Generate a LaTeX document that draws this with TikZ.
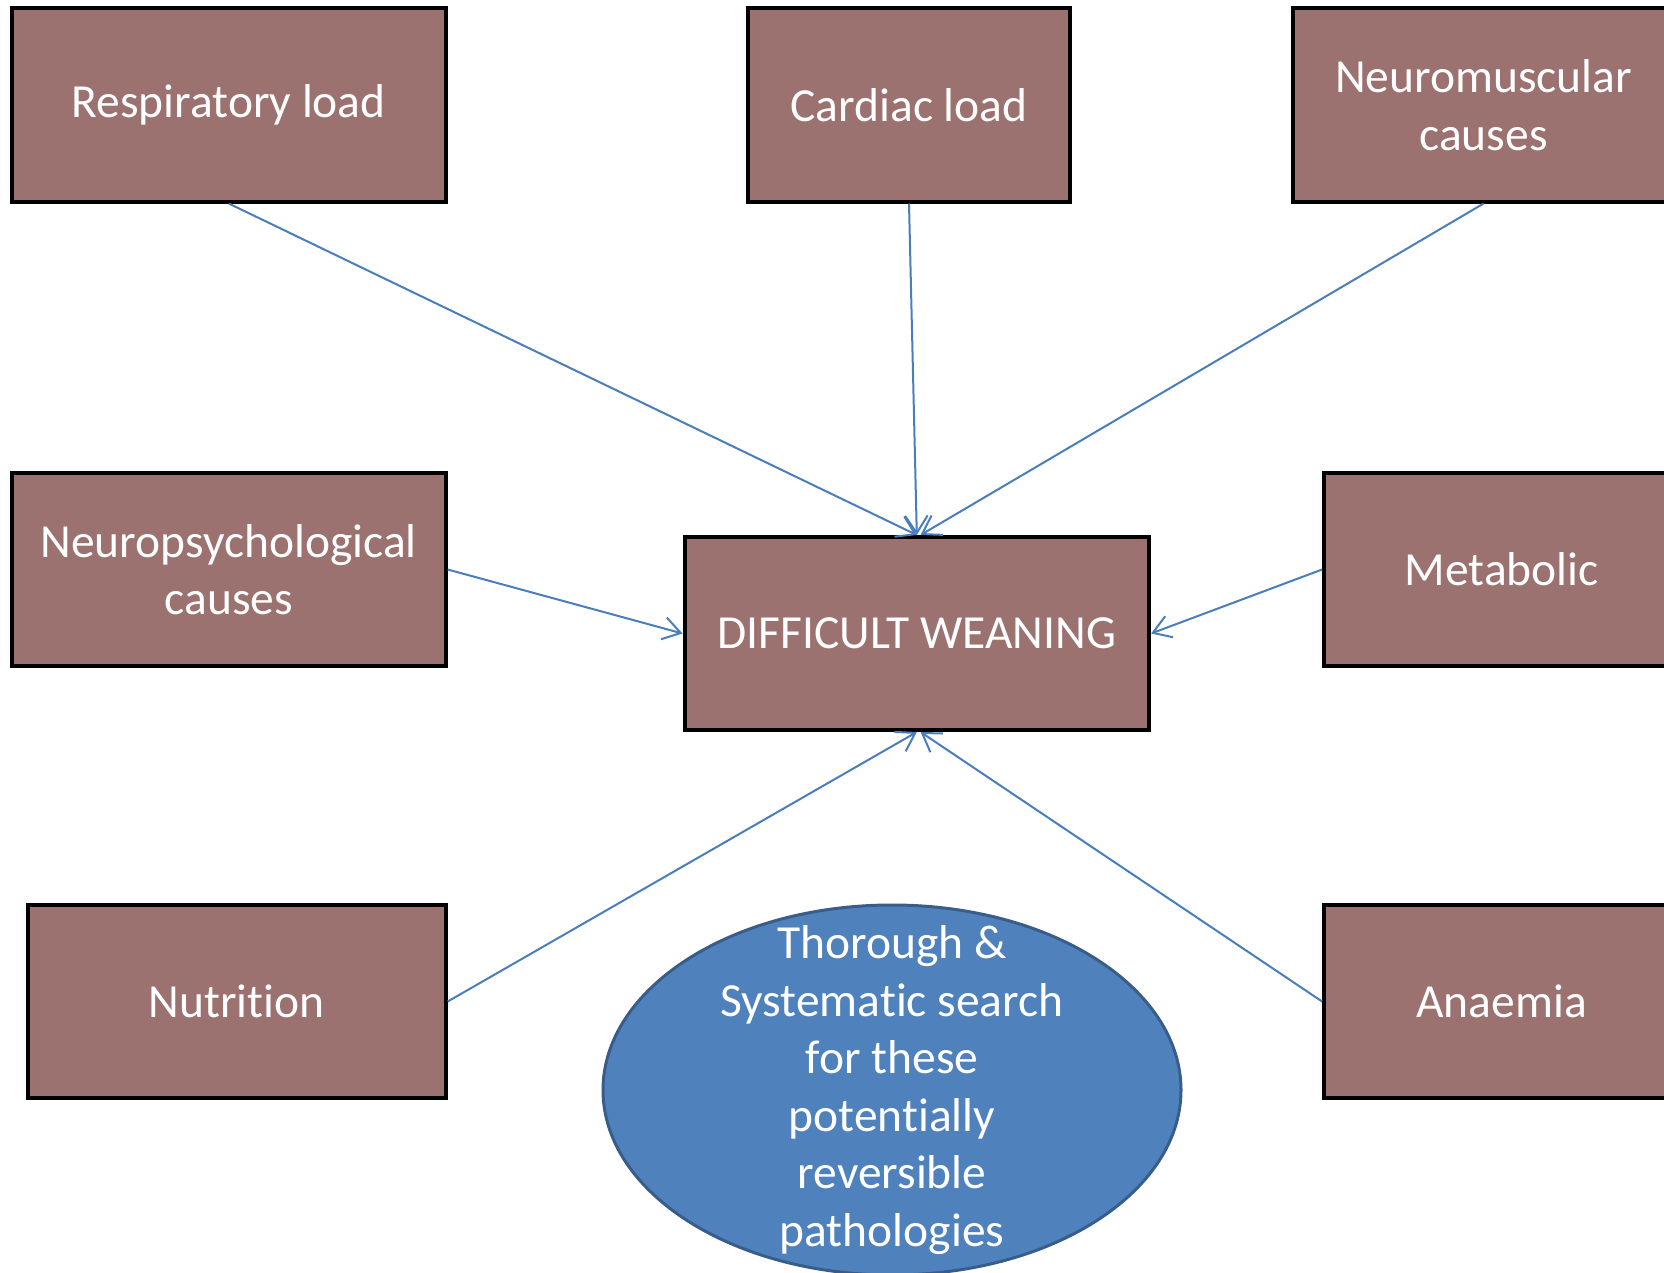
\documentclass[tikz,border=0pt]{standalone}
\usepackage{fontspec}
\setmainfont{Carlito}[Ligatures=NoCommon]
\usetikzlibrary{arrows.meta,shapes.geometric}
\definecolor{boxfill}{RGB}{155,114,112}
\definecolor{ellfill}{RGB}{79,129,189}
\definecolor{elldraw}{RGB}{56,93,138}
\definecolor{arrowcol}{RGB}{74,126,187}
\tikzset{
  cause/.style={draw=black, line width=1.6pt, fill=boxfill, text=white, align=center,
    minimum height=77.2pt, inner sep=2pt, font=\fontsize{19}{23}\selectfont},
  conn/.style={draw=arrowcol, line width=0.8pt, -{Straight Barb[length=7pt,width=9pt]}},
  search/.style={ellipse, draw=elldraw, line width=1.2pt, fill=ellfill,
    minimum width=231.2pt, minimum height=148pt, inner sep=0pt},
  searchtext/.style={text=white, align=center, inner sep=0pt, font=\fontsize{19}{23}\selectfont}
}
\begin{document}
\begin{tikzpicture}[x=0.4pt,y=-0.4pt]
\useasboundingbox (0,0) rectangle (1664,1272);
\node[cause, minimum width=173.6pt] (resp) at (228.7,105) {Respiratory load};
\node[cause, minimum width=128.8pt] (card) at (909,105) {Cardiac load};
\node[cause, minimum width=152.8pt] (neuro) at (1483.6,105) {Neuromuscular\\causes};
\node[cause, minimum width=173.6pt] (psych) at (228.7,569.5) {Neuropsychological\\causes};
\node[cause, minimum width=185.8pt] (dw) at (916.8,633.5) {DIFFICULT WEANING};
\node[cause, minimum width=142pt] (meta) at (1501.6,569.5) {Metabolic};
\node[cause, minimum width=167.2pt] (nutr) at (236.7,1001.5) {Nutrition};
\node[cause, minimum width=142pt] (anae) at (1501.6,1001.5) {Anaemia};
\node[search] (search) at (892,1090) {};
\node[searchtext] (searchlbl) at (search.center) {Thorough \&\\Systematic search\\for these\\potentially\\reversible\\pathologies};
\draw[conn] (resp.south) -- (dw.north);
\draw[conn] (card.south) -- (dw.north);
\draw[conn] (neuro.south) -- ([xshift=1.5pt]dw.north);
\draw[conn] (psych.east) -- (dw.west);
\draw[conn] (meta.west) -- (dw.east);
\draw[conn] (nutr.east) -- (dw.south);
\draw[conn] (anae.west) -- ([xshift=1.5pt]dw.south);
\end{tikzpicture}
\end{document}
